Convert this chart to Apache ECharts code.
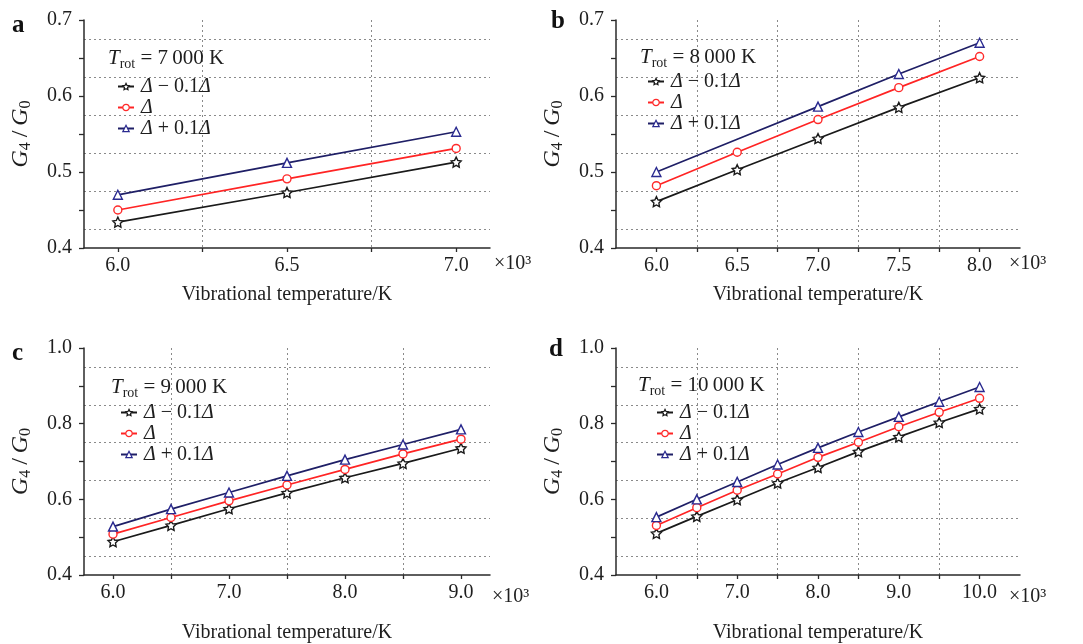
<!DOCTYPE html>
<html>
<head>
<meta charset="utf-8">
<script src="https://cdn.jsdelivr.net/npm/echarts@6/dist/echarts.min.js"></script>
<style>
  html, body { margin: 0; padding: 0; background: #fff; }
  #chart { width: 1083px; height: 644px; }
</style>
</head>
<body>
<div id="chart"></div>
<script>
// Vibrational temperature (x10^3 K) and conductance ratio G4/G0 for each rotational temperature
const tempsA = [6.0, 6.5, 7.0];
const lowA  = [0.434, 0.473, 0.513];
const midA  = [0.450, 0.491, 0.531];
const highA = [0.470, 0.512, 0.553];

const tempsB = [6.0, 6.5, 7.0, 7.5, 8.0];
const lowB  = [0.461, 0.503, 0.544, 0.585, 0.624];
const midB  = [0.482, 0.526, 0.569, 0.611, 0.652];
const highB = [0.500, 0.543, 0.586, 0.629, 0.670];

const tempsC = [6.0, 6.5, 7.0, 7.5, 8.0, 8.5, 9.0];
const lowC  = [0.488, 0.531, 0.575, 0.617, 0.657, 0.695, 0.735];
const midC  = [0.508, 0.552, 0.596, 0.638, 0.679, 0.720, 0.759];
const highC = [0.528, 0.574, 0.618, 0.662, 0.705, 0.745, 0.785];

const tempsD = [6.0, 6.5, 7.0, 7.5, 8.0, 8.5, 9.0, 9.5, 10.0];
const lowD  = [0.510, 0.555, 0.599, 0.643, 0.684, 0.726, 0.765, 0.803, 0.839];
const midD  = [0.531, 0.578, 0.624, 0.667, 0.711, 0.751, 0.792, 0.830, 0.867];
const highD = [0.553, 0.600, 0.646, 0.692, 0.736, 0.778, 0.818, 0.858, 0.897];

// Axis tick labels
const xLabelsA = [6.0, 6.5, 7.0];
const xLabelsB = [6.0, 6.5, 7.0, 7.5, 8.0];
const xLabelsC = [6.0, 7.0, 8.0, 9.0];
const xLabelsD = [6.0, 7.0, 8.0, 9.0, 10.0];
const yLabelsAB = [0.4, 0.5, 0.6, 0.7];
const yLabelsCD = [0.4, 0.6, 0.8, 1.0];

const rotTemps = ['7\u2009000', '8\u2009000', '9\u2009000', '10\u2009000'];
const panelLetters = ['a', 'b', 'c', 'd'];
const seriesNames = ['\u0394 \u2212 0.1\u0394', '\u0394', '\u0394 + 0.1\u0394'];

const FONT = 'Liberation Serif';
const TEXT = '#1e1e1e';
const AXIS = '#2a2a2a';
const lineColors = ['#1a1a1a', '#ff2424', '#1f1f66'];
const markColors = ['#1a1a1a', '#ff2a2a', '#2a2a90'];
const starPath = 'path://M0,-10L2.94,-4.05L9.51,-3.09L4.76,1.55L5.88,8.09L0,5L-5.88,8.09L-4.76,1.55L-9.51,-3.09L-2.94,-4.05Z';
const symbols = [starPath, 'circle', 'triangle'];
const symbolSizes = [10, 8, 9];

const panels = [
  { temps: tempsA, sets: [lowA, midA, highA], xLabels: xLabelsA, xMin: 5.9, xMax: 7.1,
    yLabels: yLabelsAB, yTick: 0.05,
    grid: { left: 84, top: 20, width: 406, height: 228 },
    letter: { left: 12, top: 13 }, head: { left: 108, top: 45 }, legend: { left: 117, top: 76 },
    power: { left: 494, top: 254 }, xNameGap: 37, hidden: [] },
  { temps: tempsB, sets: [lowB, midB, highB], xLabels: xLabelsB, xMin: 5.75, xMax: 8.25,
    yLabels: yLabelsAB, yTick: 0.05,
    grid: { left: 616, top: 20, width: 404, height: 228 },
    letter: { left: 551, top: 9 }, head: { left: 640, top: 44 }, legend: { left: 647, top: 71 },
    power: { left: 1009, top: 254 }, xNameGap: 37, hidden: [[2, 1]] },
  { temps: tempsC, sets: [lowC, midC, highC], xLabels: xLabelsC, xMin: 5.75, xMax: 9.25,
    yLabels: yLabelsCD, yTick: 0.1,
    grid: { left: 84, top: 348, width: 406, height: 229 },
    letter: { left: 12, top: 341 }, head: { left: 111, top: 374 }, legend: { left: 120, top: 402 },
    power: { left: 492, top: 587 }, xNameGap: 48, hidden: [] },
  { temps: tempsD, sets: [lowD, midD, highD], xLabels: xLabelsD, xMin: 5.5, xMax: 10.5,
    yLabels: yLabelsCD, yTick: 0.1,
    grid: { left: 616, top: 348, width: 404, height: 229 },
    letter: { left: 549, top: 337 }, head: { left: 638, top: 372 }, legend: { left: 656, top: 402 },
    power: { left: 1009, top: 587 }, xNameGap: 48, hidden: [] }
];

// Ticks sit on every label and halfway between; dotted grid lines only at the halfway marks
function halfSteps(labels) {
  const out = [];
  for (let i = 0; i < labels.length - 1; i++) out.push((labels[i] + labels[i + 1]) / 2);
  return out;
}
function onStep(v, step) {
  const r = v / step;
  return Math.abs(r - Math.round(r)) < 1e-6;
}

const gridLine = { show: true, lineStyle: { color: '#8a8a8a', width: 1, type: [2, 3] } };
const sub = { fontFamily: FONT, fontSize: 14, fontWeight: 'normal', color: TEXT, lineHeight: 12, verticalAlign: 'bottom' };
const ital = { fontFamily: FONT, fontSize: 21, fontWeight: 'normal', fontStyle: 'italic', color: TEXT, lineHeight: 26 };
const roman = { fontFamily: FONT, fontSize: 21, fontWeight: 'normal', color: TEXT, lineHeight: 26 };
const bigItal = Object.assign({}, ital, { fontSize: 24 });
const bigSub = Object.assign({}, sub, { fontSize: 16 });
const bigRoman = Object.assign({}, roman, { fontSize: 24 });

const grids = [], xAxes = [], yAxes = [], series = [], titles = [], legends = [];

panels.forEach((p, i) => {
  grids.push(Object.assign({ containLabel: false }, p.grid));
  const mids = halfSteps(p.xLabels);
  const ticks = p.xLabels.concat(mids).sort((a, b) => a - b);

  xAxes.push({
    type: 'value', gridIndex: i, min: p.xMin, max: p.xMax,
    axisLine: { show: true, onZero: false, lineStyle: { color: AXIS, width: 1.5 } },
    axisTick: { show: true, customValues: ticks, length: 4, lineStyle: { color: AXIS, width: 1.3 } },
    axisLabel: { customValues: p.xLabels, formatter: v => v.toFixed(1), fontFamily: FONT, fontSize: 20, color: TEXT, margin: 8 },
    splitLine: { show: false },
    name: 'Vibrational temperature/K', nameLocation: 'middle', nameGap: p.xNameGap,
    nameTextStyle: { fontFamily: FONT, fontSize: 20, color: TEXT }
  });
  xAxes.push({
    type: 'value', gridIndex: i, min: p.xMin, max: p.xMax,
    axisLine: { show: false }, axisLabel: { show: false },
    axisTick: { show: false, customValues: mids },
    splitLine: gridLine
  });

  const yl = p.yLabels;
  const yStep = yl[1] - yl[0];
  yAxes.push({
    type: 'value', gridIndex: i, min: yl[0], max: yl[yl.length - 1], interval: p.yTick,
    axisLine: { show: true, onZero: false, lineStyle: { color: AXIS, width: 1.5 } },
    axisTick: { show: true, length: 5, lineStyle: { color: AXIS, width: 1.3 } },
    axisLabel: { formatter: v => (onStep(v - yl[0], yStep) ? v.toFixed(1) : ''), fontFamily: FONT, fontSize: 20, color: TEXT, margin: 12 },
    splitLine: { show: false },
    minorTick: { show: false, splitNumber: 2 },
    minorSplitLine: gridLine,
    name: '{i|G}{s|4}{r|\u2009/\u2009}{i|G}{s|0}', nameLocation: 'middle', nameGap: 50, nameRotate: 90,
    nameTextStyle: { rich: { i: bigItal, s: bigSub, r: bigRoman } }
  });

  p.sets.forEach((vals, k) => {
    series.push({
      type: 'line', name: seriesNames[k], xAxisIndex: 2 * i, yAxisIndex: i,
      data: p.temps.map((t, j) => {
        const item = { value: [t, vals[j]] };
        if (p.hidden.some(h => h[0] === k && h[1] === j)) item.symbol = 'none';
        return item;
      }),
      symbol: symbols[k], symbolSize: symbolSizes[k], showAllSymbol: true,
      itemStyle: { color: '#fff', borderColor: markColors[k], borderWidth: 1.4 },
      lineStyle: { color: lineColors[k], width: 1.7 },
      emphasis: { disabled: true }, z: 3 + k
    });
  });

  titles.push({
    text: panelLetters[i], left: p.letter.left, top: p.letter.top, padding: 0,
    textStyle: { fontFamily: FONT, fontSize: 25, fontWeight: 'bold', color: '#111' }
  });
  titles.push({
    text: '{i|T}{s|rot}{r| = ' + rotTemps[i] + ' K}', left: p.head.left, top: p.head.top, padding: 0,
    textStyle: { fontWeight: 'normal', rich: { i: ital, s: sub, r: roman } }
  });
  titles.push({
    text: '\u00d710\u00b3', left: p.power.left, top: p.power.top, padding: 0,
    textStyle: { fontFamily: FONT, fontSize: 20, fontWeight: 'normal', color: TEXT }
  });

  legends.push({
    orient: 'vertical', left: p.legend.left, top: p.legend.top, padding: 0,
    itemWidth: 16, itemHeight: 8, itemGap: 0, selectedMode: false,
    data: seriesNames,
    itemStyle: { color: '#fff', borderWidth: 1.2 },
    formatter: name => name.replace(/\u0394/g, '{i|\u0394}').replace(/([^}]+)(?=\{|$)/g, m => '{r|' + m + '}'),
    textStyle: {
      fontFamily: FONT, fontSize: 20, color: TEXT, lineHeight: 21, padding: [0, 0, 0, 2],
      rich: {
        i: { fontFamily: FONT, fontSize: 20, fontStyle: 'italic', color: TEXT, lineHeight: 21 },
        r: { fontFamily: FONT, fontSize: 20, color: TEXT, lineHeight: 21 }
      }
    }
  });
});

const chart = echarts.init(document.getElementById('chart'), null, { renderer: 'canvas' });
chart.setOption({
  backgroundColor: '#fff',
  animation: false,
  title: titles,
  legend: legends,
  grid: grids,
  xAxis: xAxes,
  yAxis: yAxes,
  series: series
});
</script>
</body>
</html>
